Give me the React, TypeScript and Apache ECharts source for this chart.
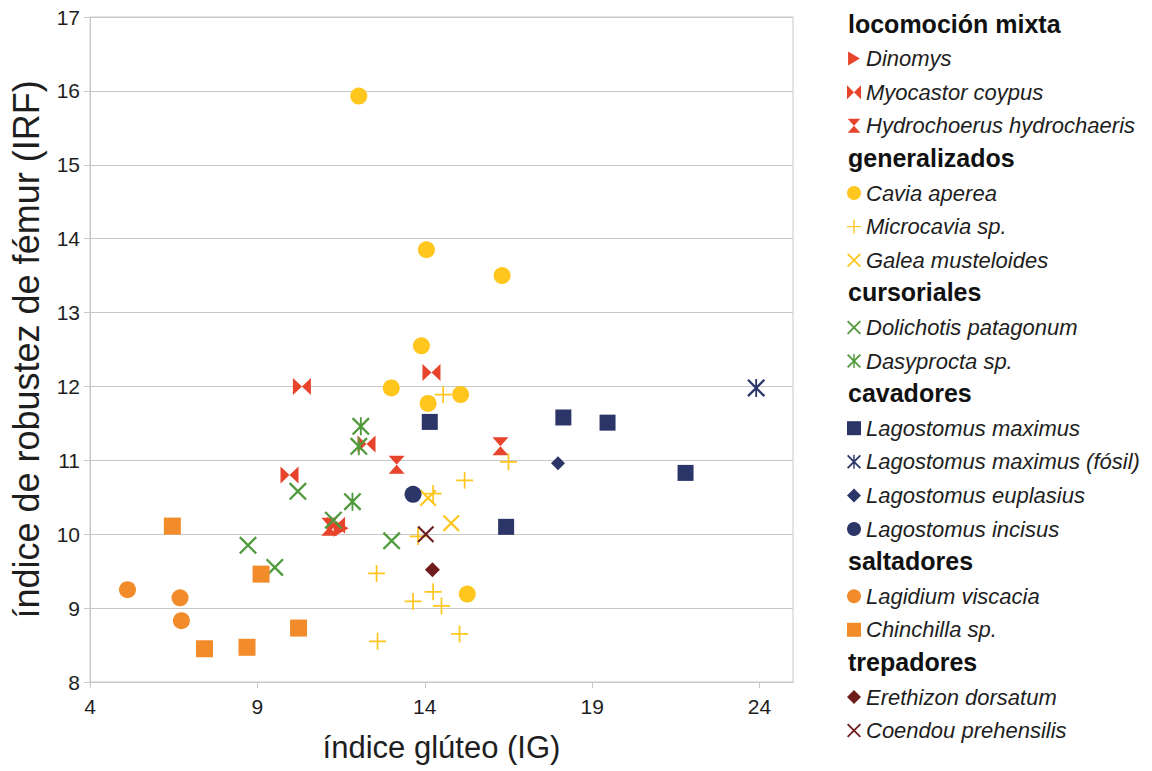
import React, { useEffect, useRef } from "react";
import * as echarts from "echarts";

// ---- data (índice glúteo IG, índice de robustez de fémur IRF) ----
const dinomys = [[11.5, 10.08]];
const myocastor = [[10.33, 12.0], [14.2, 12.19], [12.26, 11.22], [9.96, 10.8], [11.35, 10.12]];
const hydrochoerus = [[13.16, 10.94], [16.26, 11.19], [11.15, 10.1]];
const cavia = [[12.03, 15.93], [14.05, 13.85], [16.31, 13.5], [13.9, 12.55], [13.0, 11.98], [14.1, 11.77], [15.07, 11.89], [15.27, 9.19]];
const microcavia = [[14.55, 11.89], [16.5, 10.98], [15.19, 10.73], [14.25, 10.55], [13.8, 9.97], [12.56, 9.47], [13.65, 9.09], [14.25, 9.22], [14.5, 9.03], [15.04, 8.65], [12.59, 8.55]];
const galea = [[14.1, 10.49], [14.79, 10.15]];
const dolichotis = [[10.21, 10.58], [8.72, 9.85], [9.52, 9.55], [13.01, 9.91], [11.27, 10.19]];
const dasyprocta = [[12.09, 11.46], [12.03, 11.19], [11.84, 10.44]];
const lagMaximus = [[14.15, 11.52], [18.14, 11.58], [19.46, 11.51], [21.79, 10.83], [16.43, 10.1]];
const lagFosil = [[23.9, 11.98]];
const lagEuplasius = [[17.98, 10.96]];
const lagIncisus = [[13.65, 10.54]];
const lagidium = [[5.12, 9.25], [6.69, 9.14], [6.73, 8.83]];
const chinchilla = [[6.46, 10.11], [9.11, 9.46], [10.23, 8.73], [7.42, 8.45], [8.69, 8.47]];
const erethizon = [[14.23, 9.52]];
const coendou = [[14.03, 10.0]];

const xTicks = [4, 9, 14, 19, 24];
const xMin = 4, xMax = 25;
const yMin = 8, yMax = 17;

const groups = [
  { title: "locomoción mixta", items: ["Dinomys", "Myocastor coypus", "Hydrochoerus hydrochaeris"] },
  { title: "generalizados", items: ["Cavia aperea", "Microcavia sp.", "Galea musteloides"] },
  { title: "cursoriales", items: ["Dolichotis patagonum", "Dasyprocta sp."] },
  { title: "cavadores", items: ["Lagostomus maximus", "Lagostomus maximus (fósil)", "Lagostomus euplasius", "Lagostomus incisus"] },
  { title: "saltadores", items: ["Lagidium viscacia", "Chinchilla sp."] },
  { title: "trepadores", items: ["Erethizon dorsatum", "Coendou prehensilis"] },
];

// ---- styles ----
const RED = "#E8432B";
const YELLOW = "#FFC61E";
const GREEN = "#4F9A3A";
const NAVY = "#2C3568";
const ORANGE = "#F28B2A";
const MAROON = "#6E1C1C";

const TRI = "path://M0,0L17,10L0,20Z";
const BOWTIE = "path://M0,0L10,10L0,20Z M20,0L10,10L20,20Z";
const HOURGLASS = "path://M0,0H18L9,10Z M9,10L18,20H0Z";
const PLUS = "path://M9,0H11V20H9Z M0,9H20V11H0Z";
const CROSS = "path://M0,1.8L1.8,0L20,18.2L18.2,20Z M18.2,0L20,1.8L1.8,20L0,18.2Z";
const STAR = "path://M0,1.8L1.8,0L20,18.2L18.2,20Z M18.2,0L20,1.8L1.8,20L0,18.2Z M9,0H11V20H9Z";

const seriesDefs = [
  { name: "Dinomys", data: dinomys, symbol: TRI, size: [15, 17], color: RED },
  { name: "Myocastor coypus", data: myocastor, symbol: BOWTIE, size: [18, 17], color: RED },
  { name: "Hydrochoerus hydrochaeris", data: hydrochoerus, symbol: HOURGLASS, size: [16, 18], color: RED },
  { name: "Cavia aperea", data: cavia, symbol: "circle", size: 17, color: YELLOW },
  { name: "Microcavia sp.", data: microcavia, symbol: PLUS, size: 17, color: YELLOW },
  { name: "Galea musteloides", data: galea, symbol: CROSS, size: 17, color: YELLOW },
  { name: "Dolichotis patagonum", data: dolichotis, symbol: CROSS, size: 18, color: GREEN },
  { name: "Dasyprocta sp.", data: dasyprocta, symbol: STAR, size: 18, color: GREEN },
  { name: "Lagostomus maximus", data: lagMaximus, symbol: "rect", size: 16, color: NAVY },
  { name: "Lagostomus maximus (fósil)", data: lagFosil, symbol: STAR, size: 18, color: NAVY },
  { name: "Lagostomus euplasius", data: lagEuplasius, symbol: "diamond", size: 14, color: NAVY },
  { name: "Lagostomus incisus", data: lagIncisus, symbol: "circle", size: 17, color: NAVY },
  { name: "Lagidium viscacia", data: lagidium, symbol: "circle", size: 17, color: ORANGE },
  { name: "Chinchilla sp.", data: chinchilla, symbol: "rect", size: 17, color: ORANGE },
  { name: "Erethizon dorsatum", data: erethizon, symbol: "diamond", size: 15, color: MAROON },
  { name: "Coendou prehensilis", data: coendou, symbol: CROSS, size: 17, color: MAROON },
];

const FONT = "Liberation Sans, Arial, sans-serif";
const TXT = "#1e1e1e";
const GRIDC = "#C8C8C8";

export default function App() {
  const ref = useRef<HTMLDivElement>(null);
  useEffect(() => {
    if (!ref.current) return;
    const chart = echarts.init(ref.current, null, { renderer: "svg" });

    const ROW0 = 25;
    const ROW = 33.6;
    const legendX = 847;
    const legends: any[] = [];
    const graphics: any[] = [];
    let row = 0;
    groups.forEach((g) => {
      graphics.push({
        type: "text",
        left: legendX + 1,
        top: ROW0 + row * ROW - 14,
        style: { text: g.title, font: `bold 25px ${FONT}`, fill: "#111" },
      });
      row += 1;
      legends.push({
        orient: "vertical",
        left: legendX,
        top: ROW0 + row * ROW - 11,
        padding: 0,
        itemGap: ROW - 22,
        itemWidth: 14,
        itemHeight: 14,
        selectedMode: false,
        data: g.items,
        textStyle: { fontFamily: FONT, fontSize: 22, fontStyle: "italic", color: TXT, padding: [0, 0, 0, 0] },
      });
      row += g.items.length;
    });

    chart.setOption({
      animation: false,
      backgroundColor: "#fff",
      grid: { left: 88, top: 17, right: 359, bottom: 89, show: true, borderColor: GRIDC, borderWidth: 1 },
      xAxis: {
        type: "value",
        min: xMin,
        max: xMax,
        interval: 5,
        name: "índice glúteo (IG)",
        nameLocation: "middle",
        nameGap: 50,
        nameTextStyle: { fontFamily: FONT, fontSize: 31, color: TXT },
        axisLine: { show: true, lineStyle: { color: GRIDC } },
        axisTick: { show: true, length: 6, lineStyle: { color: GRIDC }, customValues: xTicks },
        axisLabel: { customValues: xTicks, fontFamily: FONT, fontSize: 21, color: TXT, margin: 14 },
        splitLine: { show: false },
      },
      yAxis: {
        type: "value",
        min: yMin,
        max: yMax,
        interval: 1,
        name: "índice de robustez de fémur (IRF)",
        nameLocation: "middle",
        nameGap: 46,
        nameTextStyle: { fontFamily: FONT, fontSize: 36, color: TXT },
        axisLine: { show: true, lineStyle: { color: GRIDC } },
        axisTick: { show: true, length: 6, lineStyle: { color: GRIDC } },
        axisLabel: { fontFamily: FONT, fontSize: 21, color: TXT, margin: 10 },
        splitLine: { show: true, lineStyle: { color: GRIDC } },
      },
      legend: legends,
      graphic: graphics,
      series: seriesDefs.map((s) => ({
        type: "scatter",
        name: s.name,
        data: s.data,
        symbol: s.symbol,
        symbolSize: s.size,
        itemStyle: { color: s.color, opacity: 1 },
        emphasis: { disabled: true },
      })),
    });
    return () => chart.dispose();
  }, []);
  return <div ref={ref} style={{ position: "fixed", left: 0, top: 0, width: 1152, height: 771 }} />;
}
